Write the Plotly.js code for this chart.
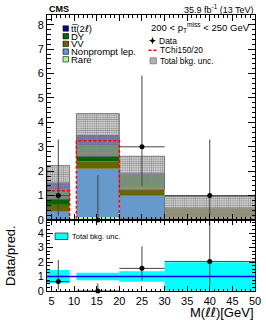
<!DOCTYPE html>
<html><head><meta charset="utf-8">
<script src="https://cdn.plot.ly/plotly-3.0.1.min.js"></script>
<style>html,body{margin:0;padding:0;background:#fff}#c{width:266px;height:322px}</style>
</head><body><div id="c"></div>
<script>
// ---- data ----
const binLo = [4, 10.5, 20, 30];
const binHi = [9, 20, 30, 50];
const rare = [0.02, 0.12, 0.03, 0.10];
const nonprompt = [0.32, 1.98, 0.96, 0.0];
const vv = [0.28, 0.30, 0.36, 0.38];
const dy = [0.62, 0.67, 0.46, 0.0];
const ttbar = [0.30, 0.41, 0.11, 0.01];
const bkgUnc = [0.69, 0.88, 0.69, 0.48];
const signal = [1.2, 3.25, 0.02, 0.02];
const data = [1, 0, 3, 1];
const dataErrUp = [2.30, 1.84, 2.92, 2.30];
const dataErrDn = [0.83, 0.0, 1.63, 0.83];
const xTicks = [5, 10, 15, 20, 25, 30, 35, 40, 45, 50];

// ---- derived ----
const centers = binLo.map((l, i) => (l + binHi[i]) / 2);
const widths = binLo.map((l, i) => binHi[i] - l);
const halfW = widths.map(w => w / 2);
const comps = [
  {name: 'Rare', v: rare, c: '#99ff99'},
  {name: 'Nonprompt lep.', v: nonprompt, c: '#6699cc'},
  {name: 'VV', v: vv, c: '#666600'},
  {name: 'DY', v: dy, c: '#006600'},
  {name: 'tt', v: ttbar, c: '#000099'}
];
const traces = [];
let cum = binLo.map(() => 0);
comps.forEach(cp => {
  traces.push({type: 'bar', x: centers, y: cp.v, base: cum.slice(), width: widths,
    marker: {color: cp.c, line: {width: 0}}, xaxis: 'x', yaxis: 'y', hoverinfo: 'skip', showlegend: false});
  cum = cum.map((s, i) => s + cp.v[i]);
});
const total = cum;
// uncertainty hatch
traces.push({type: 'bar', x: centers, y: bkgUnc.map(u => 2 * u), base: total.map((t, i) => t - bkgUnc[i]),
  width: widths, xaxis: 'x', yaxis: 'y', showlegend: false, hoverinfo: 'skip',
  marker: {color: 'rgba(0,0,0,0)', line: {width: 0.8, color: '#666'},
    pattern: {shape: '.', fgcolor: '#8a8a8a', bgcolor: 'rgba(210,210,210,0.45)', size: 2.2, solidity: 0.55}}});
// signal step line
const sx = [], sy = [];
binLo.forEach((l, i) => {
  sx.push(l, binHi[i]); sy.push(signal[i], signal[i]);
  if (i < binLo.length - 1 && binHi[i] < binLo[i + 1]) { sx.push(binHi[i], binLo[i + 1]); sy.push(0, 0); }
});
traces.push({type: 'scatter', mode: 'lines', x: sx, y: sy, xaxis: 'x', yaxis: 'y', showlegend: false,
  line: {color: '#ff0000', width: 1.5, dash: '3px,2px'}, hoverinfo: 'skip', cliponaxis: false});
// data
traces.push({type: 'scatter', mode: 'markers', x: centers, y: data, xaxis: 'x', yaxis: 'y', showlegend: false,
  marker: {color: '#000', size: 5},
  error_x: {type: 'data', array: halfW, width: 0, thickness: 1, color: '#444'},
  error_y: {type: 'data', symmetric: false, array: dataErrUp, arrayminus: dataErrDn, width: 0, thickness: 1, color: '#444'},
  cliponaxis: false, hoverinfo: 'skip'});
// ratio panel
const relUnc = bkgUnc.map((u, i) => u / total[i]);
traces.push({type: 'bar', x: centers, y: relUnc.map(r => 2 * r), base: relUnc.map(r => 1 - r), width: widths,
  xaxis: 'x2', yaxis: 'y2', marker: {color: '#00ffff', line: {width: 0}}, showlegend: false, hoverinfo: 'skip'});
const ratio = data.map((d, i) => d / total[i]);
traces.push({type: 'scatter', mode: 'markers', x: centers, y: ratio, xaxis: 'x2', yaxis: 'y2', showlegend: false,
  marker: {color: '#000', size: 0.1, opacity: 0},
  error_x: {type: 'data', array: halfW, width: 0, thickness: 1, color: '#444'},
  error_y: {type: 'data', symmetric: false, array: dataErrUp.map((e, i) => e / total[i]),
    arrayminus: dataErrDn.map((e, i) => e / total[i]), width: 0, thickness: 1, color: '#444'},
  hoverinfo: 'skip'});
traces.push({type: 'scatter', mode: 'markers', x: centers, y: ratio, xaxis: 'x2', yaxis: 'y2', showlegend: false,
  marker: {color: '#000', size: 5}, cliponaxis: false, hoverinfo: 'skip'});

// ---- layout helpers (pixel -> paper) ----
const Lm = 47, Rm = 11, Tm = 15, Bm = 31;
const Wp = 266 - Lm - Rm, Hp = 322 - Tm - Bm;
const px = x => (x - Lm) / Wp;
const py = y => (322 - Bm - y) / Hp;
const split = py(220);
const FONT = 'Liberation Sans, Arial, sans-serif';
const ELL = '<span style="font-family:DejaVu Sans">\u2113</span>';

const shapes = [];
const ann = [];
function txt(t, x, y, size, opts) {
  ann.push(Object.assign({text: t, xref: 'paper', yref: 'paper', x: px(x), y: py(y), xanchor: 'left', yanchor: 'middle',
    showarrow: false, font: {family: FONT, size: size, color: '#000'}}, opts || {}));
}
function rect(x0, y0, x1, y1, fill, lc) {
  shapes.push({type: 'rect', xref: 'paper', yref: 'paper', x0: px(x0), x1: px(x1), y0: py(y1), y1: py(y0),
    fillcolor: fill, line: {width: 0.6, color: lc || '#000'}, layer: 'above'});
}
// left legend (top of stack first)
const legendItems = [comps[4], comps[3], comps[2], comps[1], comps[0]];
const legendLabels = ['tt\u0305(2' + ELL + ')', 'DY', 'VV', 'Nonprompt lep.', 'Rare'];
legendItems.forEach((cp, i) => {
  const row = 28.5 + 7.7 * i;
  rect(63, row - 2.7, 68.5, row + 2.7, cp.c);
  txt(legendLabels[i], 69.3, row, 9.5);
});
// right legend
txt('200 &lt; p<sub>T</sub><sup>miss</sup> &lt; 250 GeV', 149, 28, 9.5);
shapes.push({type: 'line', xref: 'paper', yref: 'paper', x0: px(149.5), x1: px(155.5), y0: py(40.7), y1: py(40.7), line: {color: '#000', width: 1}});
shapes.push({type: 'line', xref: 'paper', yref: 'paper', x0: px(152.5), x1: px(152.5), y0: py(37.7), y1: py(43.7), line: {color: '#000', width: 1}});
shapes.push({type: 'circle', xref: 'paper', yref: 'paper', x0: px(150.8), x1: px(154.2), y0: py(42.4), y1: py(39), fillcolor: '#000', line: {width: 0}});
txt('Data', 157, 40.7, 8.5);
shapes.push({type: 'line', xref: 'paper', yref: 'paper', x0: px(148.5), x1: px(157), y0: py(50.3), y1: py(50.3), line: {color: '#ff0000', width: 1.5, dash: '3px,2px'}});
txt('TChi150/20', 158, 50.3, 8.3);
rect(150, 57.8, 156.5, 63.8, '#b0b0b0', '#666');
txt('Total bkg. unc.', 158, 60.8, 8.3);
// ratio legend
rect(55, 233, 68, 239.5, '#00ffff');
txt('Total bkg. unc.', 70, 236.3, 7.5);
// header
txt('<b>CMS</b>', 47, 8.5, 9);
txt('35.9 fb<sup>-1</sup> (13 TeV)', 256, 8.5, 9, {xanchor: 'right'});
// axis titles
ann.push({text: 'M(' + ELL + ELL + ')[GeV]', xref: 'paper', yref: 'paper', x: px(256), y: py(312), xanchor: 'right', yanchor: 'middle',
  showarrow: false, font: {family: FONT, size: 13, color: '#000'}});
ann.push({text: 'Data/pred.', xref: 'paper', yref: 'paper', x: px(10), y: py(256), textangle: -90,
  xanchor: 'center', yanchor: 'middle', showarrow: false, font: {family: FONT, size: 13, color: '#000'}});
// unity line in ratio
shapes.push({type: 'line', xref: 'x2', yref: 'y2', x0: binLo[0], x1: binHi[binHi.length - 1], y0: 1, y1: 1,
  line: {color: '#0000ff', width: 1.5}, layer: 'above'});

const axBase = {showline: true, linecolor: '#000', linewidth: 1, mirror: 'allticks', ticks: 'inside',
  tickcolor: '#000', showgrid: false, zeroline: false, tickfont: {family: FONT, size: 11, color: '#000'}};
const layout = {
  width: 266, height: 322, margin: {l: Lm, r: Rm, t: Tm, b: Bm}, showlegend: false,
  paper_bgcolor: '#fff', plot_bgcolor: '#fff', barmode: 'overlay',
  xaxis: Object.assign({}, axBase, {domain: [0, 1], anchor: 'y', range: [4, 50], tickvals: xTicks,
    showticklabels: false, ticklen: 6, minor: {ticks: 'inside', ticklen: 3, dtick: 1, tick0: 0, tickcolor: '#000'}}),
  yaxis: Object.assign({}, axBase, {domain: [split, 1], anchor: 'x', range: [0, 8.4], dtick: 1, tick0: 0, ticklen: 7,
    minor: {ticks: 'inside', ticklen: 3.5, dtick: 0.2, tick0: 0, tickcolor: '#000'}}),
  xaxis2: Object.assign({}, axBase, {domain: [0, 1], anchor: 'y2', range: [4, 50], tickvals: xTicks, ticklen: 5,
    minor: {ticks: 'inside', ticklen: 2.5, dtick: 1, tick0: 0, tickcolor: '#000'}}),
  yaxis2: Object.assign({}, axBase, {domain: [0, split], anchor: 'x2', range: [0, 4.9], dtick: 1, tick0: 0, ticklen: 6,
    minor: {ticks: 'inside', ticklen: 3, dtick: 0.25, tick0: 0, tickcolor: '#000'}}),
  shapes: shapes, annotations: ann
};
Plotly.newPlot('c', traces, layout, {displayModeBar: false, staticPlot: true});
</script></body></html>
